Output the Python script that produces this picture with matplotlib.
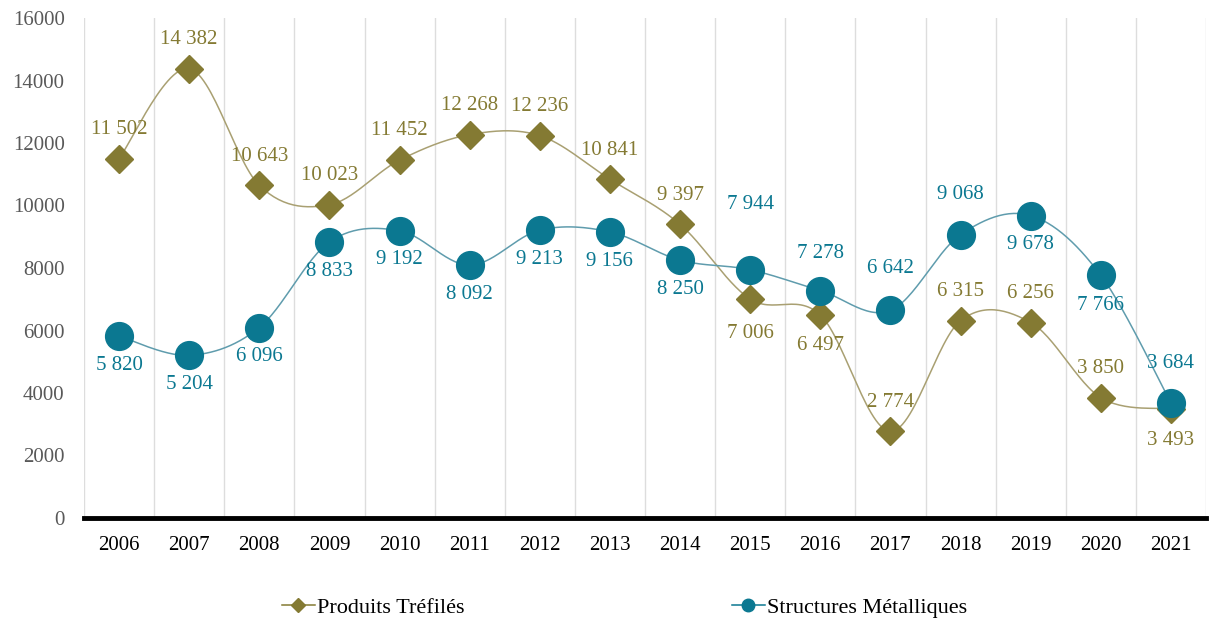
import numpy as np
import matplotlib
matplotlib.use("Agg")
from matplotlib import pyplot as plt
from matplotlib.lines import Line2D

years = ["2006", "2007", "2008", "2009", "2010", "2011", "2012", "2013",
         "2014", "2015", "2016", "2017", "2018", "2019", "2020", "2021"]
produits = [11502, 14382, 10643, 10023, 11452, 12268, 12236, 10841,
            9397, 7006, 6497, 2774, 6315, 6256, 3850, 3493]
structures = [5820, 5204, 6096, 8833, 9192, 8092, 9213, 9156,
              8250, 7944, 7278, 6642, 9068, 9678, 7766, 3684]
# label offsets in points (+ above, - below)
produits_lbl = [21, 21, 21, 21, 21, 21, 21, 21, 21, -25, -22, 21, 21, 21, 21, -23]
structures_lbl = [-21, -21, -21, -21, -21, -21, -21, -21, -21, 47, 27, 30, 29, -21, -22, 28]

OLIVE = "#847a33"
TEAL = "#0b7891"

plt.rcParams['font.family'] = ['Liberation Serif', 'DejaVu Serif']


def smooth(xs, ys, n=30):
    # excel-like smoothed line (catmull-rom as bezier)
    pts = np.column_stack([xs, ys]).astype(float)
    out = []
    for i in range(len(pts) - 1):
        p0 = pts[i - 1] if i > 0 else pts[i]
        p1 = pts[i]
        p2 = pts[i + 1]
        p3 = pts[i + 2] if i + 2 < len(pts) else pts[i + 1]
        c1 = p1 + (p2 - p0) / 6.0
        c2 = p2 - (p3 - p1) / 6.0
        t = np.linspace(0, 1, n)[:, None]
        seg = ((1 - t) ** 3) * p1 + 3 * ((1 - t) ** 2) * t * c1 + 3 * (1 - t) * t ** 2 * c2 + t ** 3 * p2
        out.append(seg if i == 0 else seg[1:])
    out = np.vstack(out)
    return out[:, 0], out[:, 1]


def fmt(v):
    return "{:,}".format(v).replace(",", " ")


fig = plt.figure(figsize=(12.15, 6.21), dpi=100)
ax = fig.add_axes([84 / 1215, 1 - 518 / 621, (1206 - 84) / 1215, 500 / 621])

x = np.arange(len(years))

sx, sy = smooth(x, produits)
ax.plot(sx, sy, color="#a9a072", lw=1.1, zorder=3)
ax.plot(x, produits, ls="none", marker="D", ms=14, color=OLIVE, zorder=4)

sx, sy = smooth(x, structures)
ax.plot(sx, sy, color="#5f9cad", lw=1.1, zorder=3)
ax.plot(x, structures, ls="none", marker="o", ms=20, color=TEAL, zorder=5)

for i in range(len(years)):
    ax.annotate(fmt(produits[i]), (x[i], produits[i]), xytext=(0, produits_lbl[i]),
                textcoords="offset points", ha="center", va="center",
                fontsize=15, color=OLIVE, zorder=6)
    ax.annotate(fmt(structures[i]), (x[i], structures[i]), xytext=(0, structures_lbl[i]),
                textcoords="offset points", ha="center", va="center",
                fontsize=15, color=TEAL, zorder=6)

ax.set_xlim(-0.5, len(years) - 0.5)
ax.set_ylim(0, 16000)
ax.set_yticks(np.arange(0, 16001, 2000))
ax.set_yticklabels([str(v) for v in range(0, 16001, 2000)], fontsize=15, color="#595959")
ax.set_xticks(x)
ax.set_xticklabels(years, fontsize=15, color="black")

for b in np.arange(-0.5, len(years), 1.0):
    ax.axvline(b, color="#dddddd", lw=1, zorder=1)

for s in ["top", "right", "left"]:
    ax.spines[s].set_visible(False)
ax.spines["bottom"].set_linewidth(3.5)
ax.spines["bottom"].set_color("black")
ax.spines["bottom"].set_zorder(7)
ax.tick_params(axis="both", length=0)
ax.tick_params(axis="x", pad=13)
ax.tick_params(axis="y", pad=14)

handles = [
    Line2D([0], [0], color=OLIVE, lw=1.1, marker="D", ms=7, label="Produits Tréfilés"),
    Line2D([0], [0], color=TEAL, lw=1.1, marker="o", ms=9, label="Structures Métalliques"),
]
fig.legend(handles=handles, loc="center", bbox_to_anchor=(0.514, 0.022), ncol=2,
           frameon=False, fontsize=16, columnspacing=12, handlelength=1.5,
           handletextpad=0.1)

fig.savefig("out.png", dpi=100)
